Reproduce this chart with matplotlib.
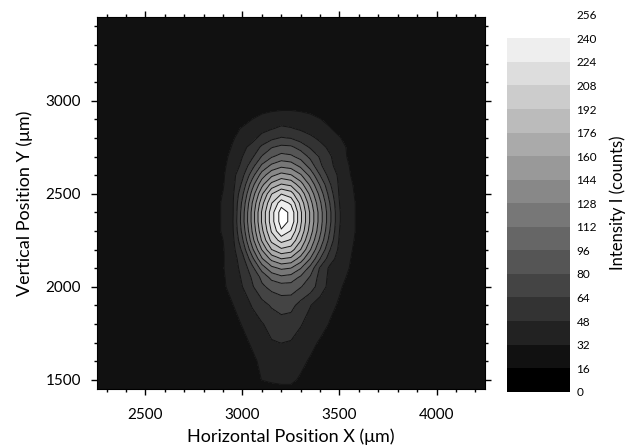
import numpy as np
import matplotlib.pyplot as plt
from matplotlib.ticker import MultipleLocator

plt.rcParams['font.family'] = ['Lato', 'DejaVu Sans']

# sample grid of the beam image (um), rows listed bottom to top
x_um = [2850, 2900, 2950, 3000, 3050, 3100, 3150, 3200,
        3250, 3300, 3350, 3400, 3450, 3500, 3550, 3600]
y_um = [1450, 1500, 1600, 1700, 1800, 1900, 2000, 2050, 2100, 2150,
        2200, 2250, 2300, 2350, 2400, 2450, 2500, 2550, 2600, 2650,
        2700, 2750, 2800, 2850, 2900, 3000]

intensity = [
    [21, 21, 21, 21, 22, 24, 28, 29, 29, 24, 23, 21, 21, 21, 21, 21],
    [21, 21, 21, 22, 24, 32.5, 34, 35, 35, 30, 27, 23, 21, 21, 21, 21],
    [21, 21, 22, 25, 29, 35, 39, 40, 39, 36, 30, 26, 22, 21, 21, 21],
    [21, 22, 25, 28, 34, 42, 47, 48.3, 47, 43, 37, 30, 25, 22, 21, 21],
    [21, 23, 27, 33, 42, 47, 53, 58, 56, 49, 43, 39, 31, 26, 23, 21],
    [22, 26, 31.5, 40, 49, 58, 66, 70, 69, 58, 48.5, 41, 36, 30, 26, 23],
    [23, 29.5, 38, 48, 62, 77, 85, 89, 89, 81, 72, 56, 43, 34, 27, 24],
    [24, 30, 40, 50, 66, 84, 101, 108, 105, 93, 78, 58, 44, 38, 29, 26],
    [25, 31, 42, 52, 75, 103, 123, 131, 128, 113, 90, 62, 45, 40, 32, 27],
    [24, 31, 40, 58, 91, 126, 149, 160, 156, 137, 111, 80, 55, 41, 33, 27],
    [25, 31, 42, 68, 108, 145, 176, 189, 184, 160, 129, 96, 65, 44, 34, 28],
    [26, 32, 44, 78, 121, 162, 197, 214, 206, 177, 142, 108, 74, 46, 36, 28],
    [26, 34, 46, 85, 129, 172, 210, 238, 223, 189, 152, 116, 80, 48, 37, 29],
    [26, 34, 47, 89, 133, 178, 217, 248, 236, 195, 157, 120, 84, 49, 37, 29],
    [26, 34, 46, 88, 133, 178, 217, 248, 236, 195, 157, 120, 84, 49, 37, 29],
    [26, 34, 46, 84, 128, 170, 207, 233, 221, 187, 150, 115, 80, 48, 37, 29],
    [26, 32.5, 45, 77, 118, 157, 191, 207, 199, 172, 139, 106, 73, 46, 36, 28],
    [25, 31, 43, 68, 105, 139, 165, 177, 172, 151, 124, 94, 66, 45, 35, 27],
    [24, 30, 43, 60, 89, 120, 140, 150, 145, 130, 107, 80, 57, 45, 33, 26],
    [22, 29, 39, 52, 74, 99, 116, 124, 121, 108, 89, 67, 52, 41, 32, 25],
    [22, 29, 35, 48, 61, 81, 94, 102, 99, 90, 76, 62, 50, 38, 30, 24],
    [22, 27, 33, 44, 53, 67, 79, 84, 83, 74, 62, 54, 44, 36, 30, 24],
    [22, 24, 31, 36, 43, 53, 60, 65, 63, 56, 52, 44, 38, 33, 26, 22],
    [21, 23, 29, 33, 37, 43, 47, 51, 49, 46, 40, 36, 33, 27, 24, 21],
    [21, 22, 24, 28, 32, 36, 39, 41, 41, 39, 36, 32.5, 28, 24, 22, 21],
    [21, 21, 21, 21, 21, 22, 22, 22, 22, 22, 22, 21, 21, 21, 21, 21],
]

levels = np.arange(0, 257, 16)
greys = [str(i / 15) for i in range(16)]

fig = plt.figure(figsize=(6.33, 4.45), dpi=100)
ax = fig.add_axes([0.1532, 0.1258, 0.613, 0.836])
cax = fig.add_axes([0.8017, 0.1198, 0.098, 0.847])

ax.set_facecolor(greys[1])
cf = ax.contourf(x_um, y_um, intensity, levels=levels, colors=greys)
ax.contour(x_um, y_um, intensity, levels=levels[2:16], colors='0.08', linewidths=0.7)

ax.set_xlim(2250, 4250)
ax.set_ylim(1450, 3450)
ax.set_xticks([2500, 3000, 3500, 4000])
ax.set_yticks([1500, 2000, 2500, 3000])
ax.xaxis.set_minor_locator(MultipleLocator(100))
ax.yaxis.set_minor_locator(MultipleLocator(100))
ax.tick_params(which='both', direction='out', top=True, right=True, labelsize=11, width=1)
ax.tick_params(axis='x', which='both', pad=9)
ax.tick_params(axis='y', which='both', pad=7)
ax.tick_params(which='major', length=4.5)
ax.tick_params(which='minor', length=2.5)
ax.set_xlabel('Horizontal Position X (μm)', fontsize=13, labelpad=5)
ax.set_ylabel('Vertical Position Y (μm)', fontsize=13, labelpad=9)

cbar = fig.colorbar(cf, cax=cax)
cbar.outline.set_visible(False)
cbar.set_ticks(levels)
cbar.ax.tick_params(length=0, labelsize=8.5, pad=5)
cbar.set_label('Intensity I (counts)', fontsize=12, labelpad=9)

plt.savefig('out.png', dpi=100)
